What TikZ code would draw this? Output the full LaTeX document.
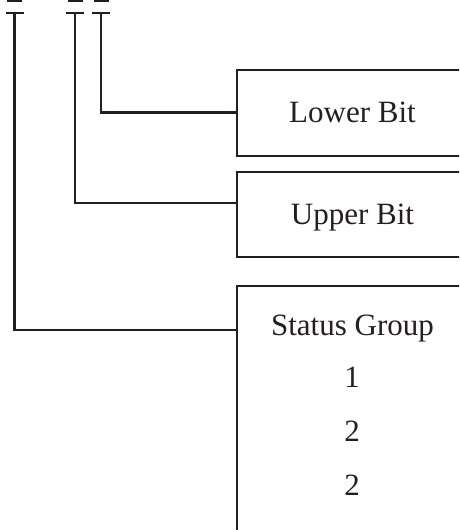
\documentclass[tikz,border=0pt]{standalone}
\usepackage{fontspec}
\setmainfont{Liberation Serif}
\definecolor{ink}{HTML}{231F20}
\begin{document}
\begin{tikzpicture}[x=1pt,y=-1pt,
  wire/.style={line width=2.9pt,draw=ink},
  box/.style={draw=ink,line width=1.5pt,rectangle,inner sep=0pt,anchor=north west,minimum width=260pt},
  lbl/.style={anchor=base,inner sep=0pt,text=ink,font=\fontsize{31}{37}\selectfont}]
\useasboundingbox (0,0) rectangle (459,530);
\clip (0,0) rectangle (459,530);
\node[box,minimum height=86pt] (lowbox) at (236,69) {};
\node[box,minimum height=85pt] (upbox) at (236,171) {};
\node[box,minimum height=300pt] (grpbox) at (236,285) {};
\node[lbl] (lowtxt) at (352.5,122.5) {Lower Bit};
\node[lbl] (uptxt) at (352.5,224) {Upper Bit};
\node[lbl] (grptxt) at (352.5,335) {Status Group};
\node[lbl] (grpone) at (352,387) {1};
\node[lbl] (grptwo) at (352,441) {2};
\node[lbl] (grpthree) at (352,495) {2};
\coordinate (grptap) at (14.5,13);
\coordinate (uptap) at (75,13);
\coordinate (lowtap) at (101,13);
\coordinate (upend) at (236,203);
\coordinate (grpend) at (236,330);
\foreach \t in {grptap,uptap,lowtap} {
  \draw[wire] ([xshift=-9pt]\t) -- ([xshift=9pt]\t);
  \draw[wire] ([shift={(-7.5,-12.5)}]\t) -- ([shift={(7.5,-12.5)}]\t);
}
\draw[wire] (lowtap) |- (lowbox.west);
\draw[wire] (uptap) |- (upend);
\draw[wire] (grptap) |- (grpend);
\end{tikzpicture}
\end{document}
